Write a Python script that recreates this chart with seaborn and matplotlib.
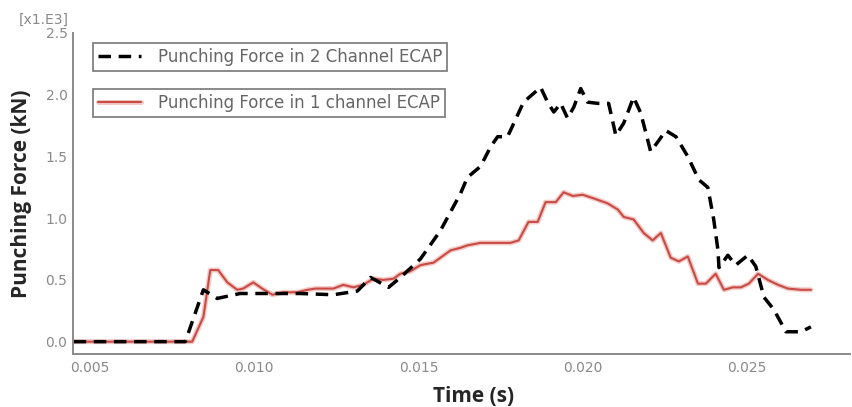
import matplotlib
matplotlib.use("Agg")
import matplotlib.pyplot as plt
import matplotlib.patheffects as pe
from matplotlib.ticker import MultipleLocator, FormatStrFormatter
from matplotlib.lines import Line2D
import numpy as np
import pandas as pd
import seaborn as sns

# Punching force in 2-channel ECAP (time in s, force in x1e3)
t_two = [0.0045, 0.0079, 0.00845, 0.00887, 0.00957, 0.0104, 0.0114, 0.01241,
         0.01314, 0.01354, 0.01409, 0.01445, 0.01506, 0.01567, 0.01628, 0.01649,
         0.01689, 0.0172, 0.01741, 0.01771, 0.0178, 0.0182, 0.01872, 0.01893,
         0.01912, 0.01933, 0.01954, 0.01973, 0.01994, 0.02015, 0.02046, 0.02079,
         0.02101, 0.02125, 0.02155, 0.02177, 0.02207, 0.02232, 0.02253, 0.02284,
         0.0232, 0.02354, 0.02381, 0.02399, 0.02412, 0.02415, 0.02442, 0.02466,
         0.02503, 0.02527, 0.02552, 0.02582, 0.02619, 0.02665, 0.02695]
f_two = [0.0, 0.0, 0.42, 0.35, 0.39, 0.39, 0.39, 0.38,
         0.41, 0.52, 0.44, 0.52, 0.67, 0.90, 1.20, 1.33,
         1.42, 1.58, 1.66, 1.66, 1.71, 1.94, 2.06, 1.94,
         1.86, 1.93, 1.81, 1.90, 2.05, 1.94, 1.93, 1.93,
         1.67, 1.77, 1.98, 1.85, 1.54, 1.63, 1.71, 1.66,
         1.50, 1.31, 1.25, 0.99, 0.74, 0.60, 0.70, 0.62,
         0.70, 0.61, 0.36, 0.26, 0.08, 0.08, 0.12]

# Punching force in 1-channel ECAP
t_one = [0.0045, 0.00811, 0.00845, 0.00866, 0.0089, 0.00918, 0.00948, 0.00966,
         0.00997, 0.01024, 0.01055, 0.01088, 0.01131, 0.01162, 0.01186, 0.0121,
         0.01241, 0.01271, 0.01302, 0.01332, 0.01363, 0.01393, 0.01424, 0.01445,
         0.01475, 0.01506, 0.01546, 0.01598, 0.01628, 0.01649, 0.01689, 0.01729,
         0.0178, 0.01805, 0.01835, 0.01863, 0.01887, 0.01918, 0.01942, 0.0197,
         0.0200, 0.02034, 0.02076, 0.02107, 0.02125, 0.02155, 0.02186, 0.02213,
         0.02238, 0.02268, 0.02293, 0.0232, 0.02351, 0.02375, 0.02405, 0.0243,
         0.02457, 0.02482, 0.02506, 0.02534, 0.02564, 0.02595, 0.02625, 0.02665,
         0.02695]
f_one = [0.0, 0.0, 0.20, 0.58, 0.58, 0.48, 0.42, 0.43,
         0.48, 0.43, 0.38, 0.40, 0.40, 0.42, 0.43, 0.43,
         0.43, 0.46, 0.44, 0.46, 0.51, 0.50, 0.51, 0.55,
         0.57, 0.62, 0.64, 0.74, 0.76, 0.78, 0.80, 0.80,
         0.80, 0.82, 0.97, 0.97, 1.13, 1.13, 1.21, 1.18,
         1.19, 1.16, 1.12, 1.07, 1.01, 0.99, 0.88, 0.82,
         0.88, 0.68, 0.65, 0.69, 0.47, 0.47, 0.55, 0.42,
         0.44, 0.44, 0.47, 0.55, 0.50, 0.46, 0.43, 0.42,
         0.42]

label_two = "Punching Force in 2 Channel ECAP"
label_one = "Punching Force in 1 channel ECAP"

x_ticks = [0.005, 0.010, 0.015, 0.020, 0.025]
y_ticks = [0.0, 0.5, 1.0, 1.5, 2.0, 2.5]

sns.set_style("white")
plt.rcParams["font.family"] = ["DejaVu Sans"]

gray = "#8a8a8a"
red = "#c84b45"

fig = plt.figure(figsize=(8.53, 4.07), dpi=100)
ax = fig.add_axes([73 / 853, 1 - 354 / 407, 777 / 853, 321 / 407])

df_two = pd.DataFrame({"t": t_two, "f": f_two})
df_one = pd.DataFrame({"t": t_one, "f": f_one})

halo = [pe.Stroke(linewidth=3.6, foreground="#f3c9c5"), pe.Normal()]
dash = (0, (3.6, 2.2))

sns.lineplot(data=df_one, x="t", y="f", ax=ax, color=red, linewidth=1.5,
             estimator=None, sort=False, path_effects=halo)
sns.lineplot(data=df_two, x="t", y="f", ax=ax, color="black", linewidth=2.5,
             estimator=None, sort=False, dashes=False, linestyle=dash)

ax.set_xlim(0.00448, 0.02814)
ax.set_ylim(-0.1, 2.5)
ax.set_xticks(x_ticks)
ax.set_yticks(y_ticks)
ax.xaxis.set_major_formatter(FormatStrFormatter("%.3f"))
ax.yaxis.set_major_formatter(FormatStrFormatter("%.1f"))
ax.xaxis.set_minor_locator(MultipleLocator(0.0025))
ax.yaxis.set_minor_locator(MultipleLocator(0.25))

for side in ("top", "right"):
    ax.spines[side].set_visible(False)
for side in ("left", "bottom"):
    ax.spines[side].set_color(gray)
    ax.spines[side].set_linewidth(1.4)

ax.tick_params(axis="both", which="major", direction="in", length=5, width=1.1,
               color=gray, labelcolor=gray, labelsize=10, pad=4)
ax.tick_params(axis="both", which="minor", direction="in", length=3, width=1.0,
               color=gray)
ax.tick_params(axis="x", which="major", pad=5)

ax.set_xlabel("Time (s)", fontsize=15, fontweight="bold", family="Open Sans")
ax.set_ylabel("Punching Force (kN)", fontsize=15, fontweight="bold", family="Open Sans")
ax.xaxis.set_label_coords((474 - 73) / 777, -(396 - 354) / 321)
ax.xaxis.label.set_va("center")
ax.yaxis.set_label_coords((22 - 73) / 777, (354 - 194) / 321)
ax.yaxis.label.set_va("center")

fig.text(44 / 853, 1 - 20 / 407, "[x1.E3]", fontsize=10, color=gray,
         ha="center", va="center")

# Two separate framed legend boxes
h_two = Line2D([], [], color="black", linewidth=2.5, linestyle=dash)
h_one = Line2D([], [], color=red, linewidth=1.5, path_effects=halo)
leg_kw = dict(frameon=True, fancybox=False, fontsize=12, handlelength=2.6,
              handletextpad=1.0, borderpad=0.3, borderaxespad=0, labelcolor="#666666")
leg1 = ax.legend([h_two], [label_two], loc="upper left",
                 bbox_to_anchor=((93 - 73) / 777, 1 - (43 - 33) / 321), **leg_kw)
ax.add_artist(leg1)
leg2 = ax.legend([h_one], [label_one], loc="upper left",
                 bbox_to_anchor=((93 - 73) / 777, 1 - (89 - 33) / 321), **leg_kw)
for lg in (leg1, leg2):
    fr = lg.get_frame()
    fr.set_edgecolor("#777777")
    fr.set_linewidth(1.2)
    fr.set_alpha(1)

fig.savefig("out.png", dpi=100)
